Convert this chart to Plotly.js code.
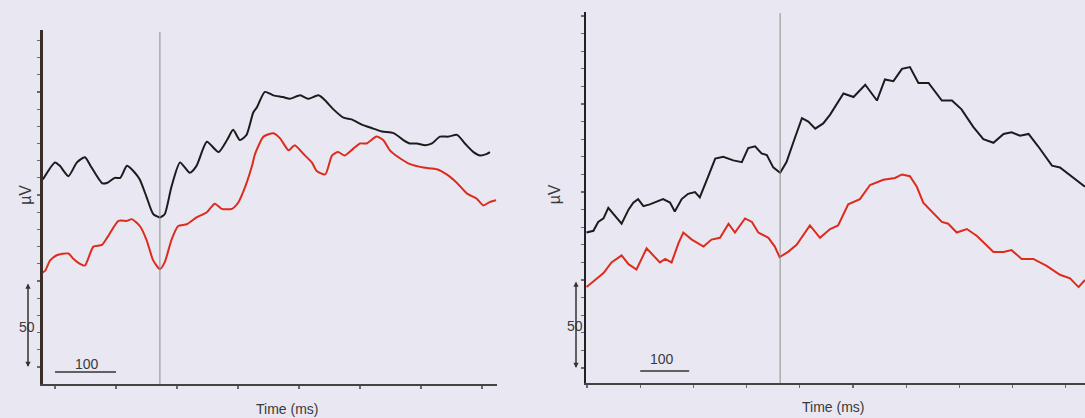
<!DOCTYPE html>
<html>
<head>
<meta charset="utf-8">
<script src="https://cdn.plot.ly/plotly-3.0.1.min.js"></script>
<style>html,body{margin:0;padding:0;background:#e9e8f2;}</style>
</head>
<body>
<div id="chart" style="width:1085px;height:418px;"></div>
<script>
// Left panel (time in ms, amplitude in µV)
const leftBlackT = [-20,0,8,22,36,49,60,77,85,98,107,118,131,139,150,161,172,180,191,205,221,232,249,268,282,292,303,314,325,331,344,358,374,385,402,415,432,443,456,473,486,503,519,536,555,571,582,593,607,618,631,645,659,672,686,697,708,713];
const leftBlackV = [109,119,117,111,119,122,116,107,107,110,110,117,113,109,99,89,87,89,105,119,113,117,131,125,132,138,132,135,148,151,160,158,157,156,158,156,158,155,150,145,144,141,139,137,136,132,130,130,129,130,134,134,135,130,125,123,124,125];
const leftRedT = [-20,-16,-8,3,22,30,41,49,63,77,87,104,118,126,139,150,161,172,180,191,202,216,232,249,262,273,290,301,312,323,328,342,358,369,383,393,407,421,429,443,454,464,475,489,500,511,527,538,549,563,582,604,626,642,659,675,691,702,713,723];
const leftRedV = [55,56,62,65,66,63,60,59,70,71,76,85,85,86,82,74,62,57,61,74,82,83,87,90,95,92,92,96,105,117,124,134,136,133,126,129,124,119,114,112,123,125,123,127,130,130,134,132,126,122,118,116,115,112,107,101,98,94,96,97];

// Right panel
const rightBlackT = [-1,12,21,31,40,53,65,78,87,96,106,118,134,143,156,165,178,190,203,212,228,241,256,275,291,303,316,328,338,350,363,375,391,404,416,429,444,457,482,501,523,545,560,576,592,607,623,642,667,686,704,726,745,764,783,798,814,830,848,874,889,914,936];
const rightBlackV = [77,78,83,85,91,86,82,90,94,96,92,93,95,96,94,89,96,99,100,97,109,119,120,118,117,125,126,122,121,114,111,117,131,142,140,136,139,144,156,154,161,152,164,163,170,171,162,162,152,152,147,137,130,128,133,134,132,133,126,115,114,108,103];
const rightRedT = [-1,15,31,46,65,78,93,112,125,137,147,159,172,181,197,219,234,250,266,278,297,310,322,341,353,362,378,394,419,438,457,472,491,513,532,557,579,592,607,620,632,648,667,679,695,714,733,764,783,798,817,839,864,889,908,924,936];
const rightRedV = [46,50,54,60,64,59,56,68,64,60,62,60,71,77,73,69,73,74,82,77,85,83,77,74,69,63,66,70,81,74,79,81,93,96,104,107,108,110,109,103,94,89,83,82,77,79,75,66,66,67,62,62,58,53,51,46,50];

// Ticks and markers
const leftXTicks = [0,100,200,300,400,500,600,700];
const rightXTicks = [0,100,200,300,400,500,600,700,800,900];
const leftYTicks = [0,10,20,30,40,50,60,70,80,90,100,110,120,130,140,150,160,170,180,190];
const rightYTicks = [0,10,20,30,40,50,60,70,80,90,100,110,120,130,140,150,160,170,180,190,200];
const leftStimulus = 172;
const rightStimulus = 363;
const axisTitleX = 'Time (ms)';
const axisTitleY = 'µV';
const scaleLabelV = '50';
const scaleLabelT = '100';

const BLACK = '#1c1c1c';
const RED = '#dd2b1c';

const traces = [
  {x:leftBlackT, y:leftBlackV, xaxis:'x', yaxis:'y', mode:'lines', line:{color:BLACK, width:2, shape:'spline', smoothing:0.6}, hoverinfo:'skip'},
  {x:leftRedT, y:leftRedV, xaxis:'x', yaxis:'y', mode:'lines', line:{color:RED, width:2, shape:'spline', smoothing:0.6}, hoverinfo:'skip'},
  {x:rightBlackT, y:rightBlackV, xaxis:'x2', yaxis:'y2', mode:'lines', line:{color:BLACK, width:2}, hoverinfo:'skip'},
  {x:rightRedT, y:rightRedV, xaxis:'x2', yaxis:'y2', mode:'lines', line:{color:RED, width:2}, hoverinfo:'skip'}
];

const axCommon = {showgrid:false, zeroline:false, showticklabels:false, ticks:'outside', ticklen:3, tickwidth:1.2, tickcolor:'#6a6a6a', showline:true, fixedrange:true};

const FONT = 'Liberation Sans, Arial, sans-serif';
function txt(t, x, y, size, extra) {
  return Object.assign({text:t, xref:'paper', yref:'paper', x:x, y:y, showarrow:false, xanchor:'center', yanchor:'middle', font:{family:FONT, size:size, color:'#3a3a3a'}}, extra||{});
}

const layout = {
  width:1085, height:418,
  margin:{l:0, r:0, t:0, b:0},
  paper_bgcolor:'#e9e8f2', plot_bgcolor:'rgba(0,0,0,0)',
  showlegend:false,
  xaxis: Object.assign({}, axCommon, {domain:[0.0396,0.4581], range:[-19.7,724.6], tickvals:leftXTicks, anchor:'y', linecolor:'#444', linewidth:2}),
  yaxis: Object.assign({}, axCommon, {domain:[0.0813,0.9282], range:[-9.9,196], tickvals:leftYTicks, anchor:'x', linecolor:'#3a2e28', linewidth:2.5}),
  xaxis2: Object.assign({}, axCommon, {domain:[0.5401,1.0], range:[-1.9,936.1], tickvals:rightXTicks, anchor:'y2', linecolor:'#444', linewidth:2}),
  yaxis2: Object.assign({}, axCommon, {domain:[0.0837,0.9713], range:[-8.5,202.3], tickvals:rightYTicks, anchor:'x2', linecolor:'#222', linewidth:2}),
  shapes: [
    {type:'line', xref:'x', yref:'y domain', x0:leftStimulus, x1:leftStimulus, y0:0, y1:0.995, line:{color:'#8c8c8c', width:1}},
    {type:'line', xref:'x2', yref:'y2 domain', x0:rightStimulus, x1:rightStimulus, y0:0, y1:0.997, line:{color:'#8c8c8c', width:1}},
    {type:'line', xref:'x', yref:'y', x0:0, x1:100, y0:-2.9, y1:-2.9, line:{color:'#333', width:1.5}},
    {type:'line', xref:'x2', yref:'y2', x0:100, x1:192, y0:-1.7, y1:-1.7, line:{color:'#333', width:1.5}}
  ],
  annotations: [
    txt(axisTitleY, 0.0235, 0.535, 16, {textangle:-90}),
    txt(axisTitleY, 0.5106, 0.535, 16, {textangle:-90}),
    txt(axisTitleX, 0.2645, 0.0215, 14),
    txt(axisTitleX, 0.7677, 0.0263, 14),
    txt(scaleLabelV, 0.0249, 0.2177, 14),
    txt(scaleLabelV, 0.5300, 0.2201, 14),
    txt(scaleLabelT, 0.0802, 0.1292, 14),
    txt(scaleLabelT, 0.6101, 0.1411, 14),
    {text:'', xref:'paper', yref:'y', x:28/1085, y:0, ax:0, ay:-85, showarrow:true, arrowside:'end+start', arrowhead:2, arrowsize:0.7, arrowwidth:1.5, arrowcolor:'#333'},
    {text:'', xref:'paper', yref:'y2', x:576/1085, y:0, ax:0, ay:-88, showarrow:true, arrowside:'end+start', arrowhead:2, arrowsize:0.7, arrowwidth:1.5, arrowcolor:'#333'}
  ]
};

Plotly.newPlot('chart', traces, layout, {staticPlot:true, displayModeBar:false});
</script>
</body>
</html>
